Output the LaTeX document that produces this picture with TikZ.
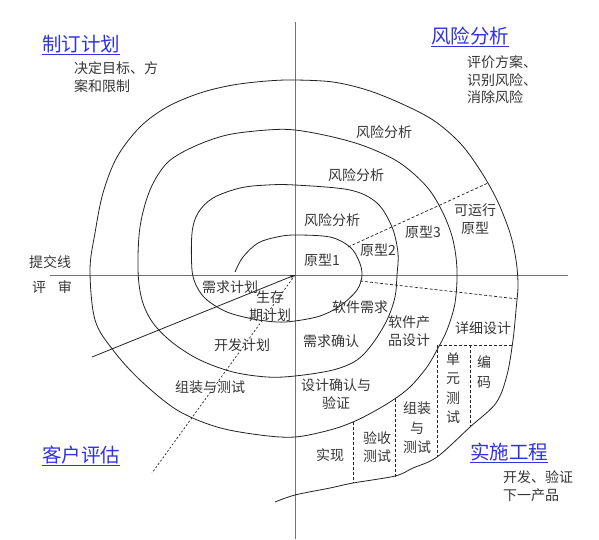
\documentclass[tikz,border=0pt]{standalone}
\usepackage{fontspec}
\setmainfont{Noto Sans CJK SC}
\usetikzlibrary{arrows.meta}
\definecolor{txtgray}{RGB}{55,55,55}
\definecolor{linegray}{RGB}{35,35,35}
\definecolor{axisgray}{RGB}{115,115,115}
\definecolor{headblue}{RGB}{50,50,225}
\begin{document}
\begin{tikzpicture}[x=1pt, y=-1pt,
    txt/.style={font=\fontsize{14}{18}\selectfont, text=txtgray, inner sep=0pt, align=center},
    vtxt/.style={txt, font=\fontsize{14}{19.5}\selectfont},
    note/.style={txt, font=\fontsize{14}{17.5}\selectfont, align=left, anchor=north west},
    head/.style={font=\fontsize{19.5}{22}\selectfont, text=headblue, inner sep=0pt, anchor=base},
    axis/.style={axisgray, line width=1pt},
    spiral/.style={linegray, line width=0.8pt},
    divider/.style={linegray, line width=0.7pt, dash pattern=on 3pt off 2pt},
    arrow/.style={-{Stealth[length=5pt, width=3.5pt]}, linegray, line width=0.8pt}
]
\useasboundingbox[fill=white] (0,0) rectangle (599,539);

\coordinate (o) at (295,275);
\coordinate (top) at (295,22);
\coordinate (bottom) at (295,539);
\coordinate (left) at (50,275);
\coordinate (right) at (568,275);
\draw[axis] (top) -- (bottom);
\draw[axis] (left) -- (right);

\draw[spiral] plot[smooth, tension=0.55] coordinates {
    (235,272) (243,257) (258,243) (277,237) (295,235)
    (330,237) (350,247) (359,261) (362,275) (357,290) (340,306) (320,316) (295,321)
    (277,322) (253,319) (227,312) (207,300) (197,287) (192,270)
    (192,233) (198,213) (213,198) (240,188) (267,185) (295,185)
    (350,190) (377,203) (392,227) (398,253) (397,275) (395,297) (387,320) (373,343) (357,360) (333,370) (295,376)
    (267,377) (233,372) (200,360) (173,343) (153,323) (142,300) (138,270)
    (140,227) (150,190) (167,163) (193,147) (227,135) (267,130) (295,130)
    (333,137) (367,147) (400,163) (427,187) (443,213) (453,240) (457,270) (455,303) (447,330) (438,348) (427,367) (410,387) (393,400) (373,412) (353,422) (330,430) (295,437)
    (260,435) (217,427) (177,410) (140,380) (113,350) (95,320) (90,270)
    (95,233) (103,193) (117,157) (140,127) (167,107) (200,93) (233,85) (267,81) (295,80)
    (333,82) (367,90) (400,103) (433,120) (460,143) (480,170) (497,200) (510,233) (516,260) (518,285) (516,310) (513,340) (507,375) (496,403) (470,427) (437,457) (413,468) (395,476) (353,483) (330,488) (295,495) (275,502)};

\coordinate (protoA) at (348,247);
\coordinate (protoB) at (488,183);
\coordinate (reqA) at (360,281);
\coordinate (reqB) at (518,299);
\coordinate (detA) at (439,345);
\coordinate (detB) at (513,345);
\coordinate (unitA) at (437,345);
\coordinate (unitB) at (437,457);
\coordinate (codeA) at (470,345);
\coordinate (codeB) at (470,427);
\coordinate (intA) at (395,399);
\coordinate (intB) at (395,477);
\coordinate (accA) at (353,422);
\coordinate (accB) at (353,483);
\coordinate (evalEnd) at (152,473);
\coordinate (reviewEnd) at (92,357);

\draw[divider] (protoA) -- (protoB);
\draw[divider] (reqA) -- (reqB);
\draw[divider] (detA) -- (detB);
\draw[divider] (unitA) -- (unitB);
\draw[divider] (codeA) -- (codeB);
\draw[divider] (intA) -- (intB);
\draw[divider] (accA) -- (accB);
\draw[divider, dash pattern=on 2pt off 2pt] (o) -- (evalEnd);
\draw[arrow] (reviewEnd) -- (o);

\node[head] (plan) at (81,51) {\underline{制订计划}};
\node[head] (risk) at (470,43.5) {\underline{风险分析}};
\node[head] (eval) at (81,462) {\underline{客户评估}};
\node[head] (impl) at (509,459) {\underline{实施工程}};
\node[note] (planNote) at (74,61.5) {决定目标、方\\案和限制};
\node[note] (riskNote) at (467,55.5) {评价方案、\\识别风险、\\消除风险};
\node[note] (implNote) at (503,470.5) {开发、验证\\下一产品};
\node[txt] (submit) at (50,262) {提交线};
\node[txt] (review) at (52,287) {评\hspace{12pt}审};

\node[txt] (riskC) at (384,132) {风险分析};
\node[txt] (riskB) at (356,175) {风险分析};
\node[txt] (riskA) at (332,220) {风险分析};
\node[txt] (proto1) at (322,260) {原型1};
\node[txt] (proto2) at (378,250) {原型2};
\node[txt] (proto3) at (423,232) {原型3};
\node[txt] (protoRun) at (475,219) {可运行\\原型};
\node[txt] (reqPlan) at (230,287) {需求计划};
\node[txt] (lifePlan) at (270,306) {生存\\期计划};
\node[txt] (devPlan) at (242,345) {开发计划};
\node[txt] (intPlan) at (210,387) {组装与测试};
\node[txt] (swReq) at (360,307) {软件需求};
\node[txt] (swDesign) at (409,331) {软件产\\品设计};
\node[txt] (detail) at (483,328) {详细设计};
\node[txt] (reqCheck) at (331,341) {需求确认};
\node[txt] (designCheck) at (336,394) {设计确认与\\验证};
\node[vtxt] (unitTest) at (453,388) {单\\元\\测\\试};
\node[vtxt] (coding) at (484,372) {编\\码};
\node[vtxt] (intTest) at (417,428) {组装\\与\\测试};
\node[txt] (accept) at (377,447) {验收\\测试};
\node[txt] (build) at (330,455) {实现};
\end{tikzpicture}
\end{document}
